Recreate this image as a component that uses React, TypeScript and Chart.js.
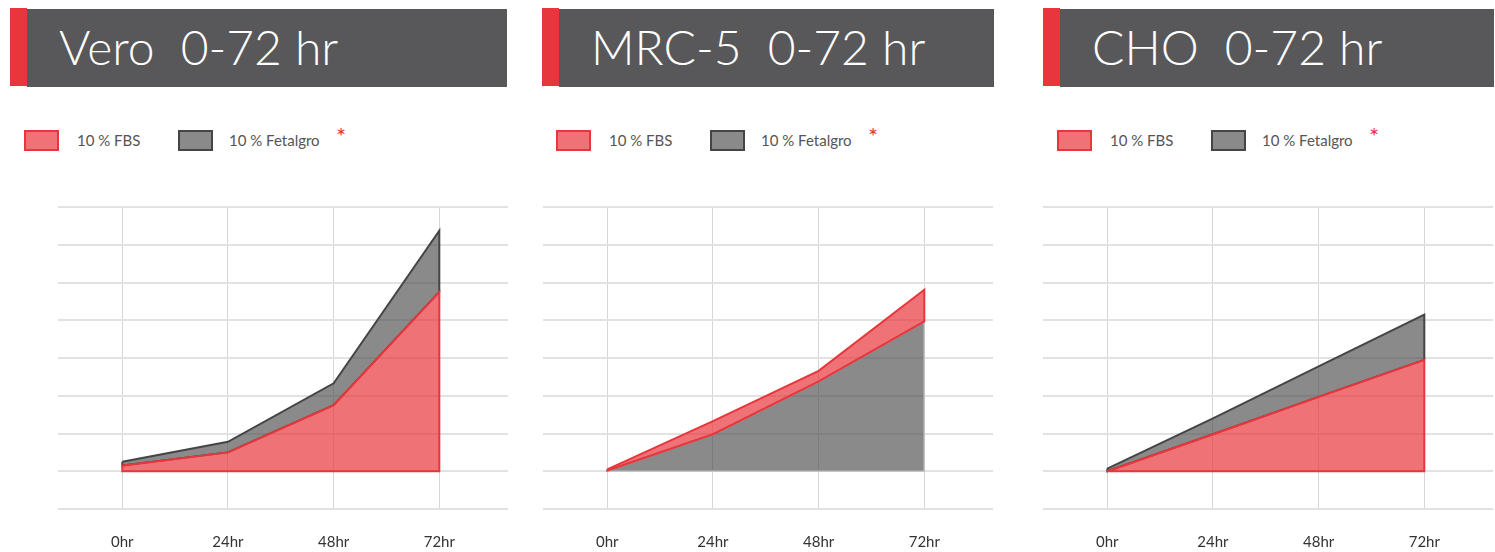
import React, { useEffect, useRef } from "react";
import { Chart, registerables } from "chart.js";

Chart.register(...registerables);

// ---- data ----
const TIMEPOINTS = [0, 24, 48, 72];
const TICK_LABELS = ["0hr", "24hr", "48hr", "72hr"];
const SERIES_NAMES = ["10 % FBS", "10 % Fetalgro"];
const PANEL_TITLES = ["Vero  0-72 hr", "MRC-5  0-72 hr", "CHO  0-72 hr"];

const VERO_FBS = [0.15, 0.5, 1.75, 4.75];
const VERO_FETALGRO = [0.25, 0.78, 2.33, 6.37];
const MRC5_FBS = [0.05, 1.33, 2.66, 4.81];
const MRC5_FETALGRO = [0.02, 0.98, 2.38, 3.97];
const CHO_FBS = [0.0, 0.98, 1.97, 2.95];
const CHO_FETALGRO = [0.07, 1.4, 2.78, 4.15];

const Y_MIN = -1;
const Y_MAX = 7;
const X_MIN = -14.6;
const X_MAX = 87.6;

// ---- styles ----
const RED_LINE = "#e8363d";
const RED_FILL = "rgba(232,54,61,0.7)";
const GREY_FILL = "rgba(77,77,77,0.66)";
const DARK_LINE = "#454545";
const LIGHT_GREY_LINE = "#c4c4c4";
const HEADER_BG = "#58585a";
const FONT = "Lato, 'Open Sans', sans-serif";

type Pt = { x: number; y: number };

function fullPolygon(vals: number[]): Pt[] {
  const pts: Pt[] = TIMEPOINTS.map((t, i) => ({ x: t, y: vals[i] }));
  pts.push({ x: TIMEPOINTS[TIMEPOINTS.length - 1], y: 0 });
  pts.push({ x: TIMEPOINTS[0], y: 0 });
  pts.push({ x: TIMEPOINTS[0], y: vals[0] });
  return pts;
}

function bandPolygon(upper: number[], lower: number[]): Pt[] {
  const pts: Pt[] = TIMEPOINTS.map((t, i) => ({ x: t, y: upper[i] }));
  for (let i = TIMEPOINTS.length - 1; i >= 0; i--) pts.push({ x: TIMEPOINTS[i], y: lower[i] });
  pts.push({ x: TIMEPOINTS[0], y: upper[0] });
  return pts;
}

type PanelDef = {
  title: string;
  left: number;
  headerW: number;
  chartLeft: number;
  fbs: number[];
  fetalgro: number[];
  fbsOnBottom: boolean; // FBS is the full polygon, Fetalgro the band above
};

const PANELS: PanelDef[] = [
  { title: PANEL_TITLES[0], left: 10, headerW: 497, chartLeft: 58, fbs: VERO_FBS, fetalgro: VERO_FETALGRO, fbsOnBottom: true },
  { title: PANEL_TITLES[1], left: 542, headerW: 452, chartLeft: 543, fbs: MRC5_FBS, fetalgro: MRC5_FETALGRO, fbsOnBottom: false },
  { title: PANEL_TITLES[2], left: 1043, headerW: 451, chartLeft: 1043, fbs: CHO_FBS, fetalgro: CHO_FETALGRO, fbsOnBottom: true },
];

function AreaChart({ p }: { p: PanelDef }) {
  const ref = useRef<HTMLCanvasElement | null>(null);
  useEffect(() => {
    if (!ref.current) return;
    let datasets: any[];
    const base = {
      pointRadius: 0,
      pointHoverRadius: 0,
      tension: 0,
      fill: "shape",
      borderJoinStyle: "miter",
    };
    if (p.fbsOnBottom) {
      datasets = [
        { ...base, label: SERIES_NAMES[0], data: fullPolygon(p.fbs), backgroundColor: RED_FILL, borderColor: RED_LINE, borderWidth: 2 },
        { ...base, label: SERIES_NAMES[1], data: bandPolygon(p.fetalgro, p.fbs), backgroundColor: GREY_FILL, borderColor: DARK_LINE, borderWidth: 2 },
      ];
    } else {
      datasets = [
        { ...base, label: SERIES_NAMES[0], data: bandPolygon(p.fbs, p.fetalgro), backgroundColor: RED_FILL, borderColor: RED_LINE, borderWidth: 2 },
        { ...base, label: SERIES_NAMES[1], data: fullPolygon(p.fetalgro), backgroundColor: GREY_FILL, borderColor: LIGHT_GREY_LINE, borderWidth: 1.5 },
      ];
    }
    const chart = new Chart(ref.current, {
      type: "line",
      data: { datasets },
      options: {
        animation: false,
        responsive: false,
        devicePixelRatio: 1,
        layout: { padding: { top: 7, left: 0, right: 0, bottom: 0 } },
        plugins: { legend: { display: false }, tooltip: { enabled: false } },
        scales: {
          x: {
            type: "linear",
            min: X_MIN,
            max: X_MAX,
            afterBuildTicks: (scale: any) => {
              scale.ticks = TIMEPOINTS.map((v) => ({ value: v }));
            },
            afterFit: (scale: any) => {
              scale.height = 43;
            },
            ticks: {
              padding: 24,
              autoSkip: false,
              maxRotation: 0,
              color: "#333333",
              font: { family: FONT, size: 15 },
              callback: (v: any) => {
                const i = TIMEPOINTS.indexOf(Number(v));
                return i >= 0 ? TICK_LABELS[i] : "";
              },
            },
            grid: { color: "#d6d6d6", lineWidth: 1, drawTicks: false },
            border: { display: false },
          },
          y: {
            type: "linear",
            min: Y_MIN,
            max: Y_MAX,
            ticks: { display: false, stepSize: 1 },
            grid: { color: "#e2e2e2", lineWidth: 2, drawTicks: false },
            border: { display: false },
          },
        },
      } as any,
    });
    return () => chart.destroy();
  }, [p]);
  return (
    <canvas
      ref={ref}
      width={450}
      height={352}
      style={{ position: "absolute", left: p.chartLeft, top: 200, width: 450, height: 352 }}
    />
  );
}

function Panel({ p }: { p: PanelDef }) {
  const L = p.left;
  const legendText: React.CSSProperties = {
    position: "absolute",
    top: 133,
    fontFamily: FONT,
    fontSize: 15,
    lineHeight: "15px",
    color: "#555555",
    whiteSpace: "nowrap",
  };
  return (
    <>
      <div style={{ position: "absolute", left: L + 17, top: 9, width: p.headerW - 17, height: 78, background: HEADER_BG }} />
      <div style={{ position: "absolute", left: L, top: 8, width: 17, height: 78, background: RED_LINE }} />
      <div
        style={{
          position: "absolute",
          left: L + 49,
          top: 23,
          fontFamily: FONT,
          fontWeight: 300,
          fontSize: 48,
          lineHeight: "48px",
          color: "#ffffff",
          whiteSpace: "pre",
        }}
      >
        {p.title}
      </div>
      <div style={{ position: "absolute", left: L + 14, top: 130, width: 31, height: 17, background: RED_FILL, border: `2px solid ${RED_LINE}` }} />
      <div style={{ ...legendText, left: L + 67 }}>{SERIES_NAMES[0]}</div>
      <div style={{ position: "absolute", left: L + 168, top: 130, width: 31, height: 17, background: GREY_FILL, border: `2px solid ${DARK_LINE}` }} />
      <div style={{ ...legendText, left: L + 219 }}>{SERIES_NAMES[1]}</div>
      <div style={{ position: "absolute", left: L + 326, top: 124, fontFamily: FONT, fontSize: 24, lineHeight: "24px", color: RED_LINE }}>*</div>
      <AreaChart p={p} />
    </>
  );
}

export default function App() {
  return (
    <div>
      {PANELS.map((p, i) => (
        <Panel key={i} p={p} />
      ))}
    </div>
  );
}
